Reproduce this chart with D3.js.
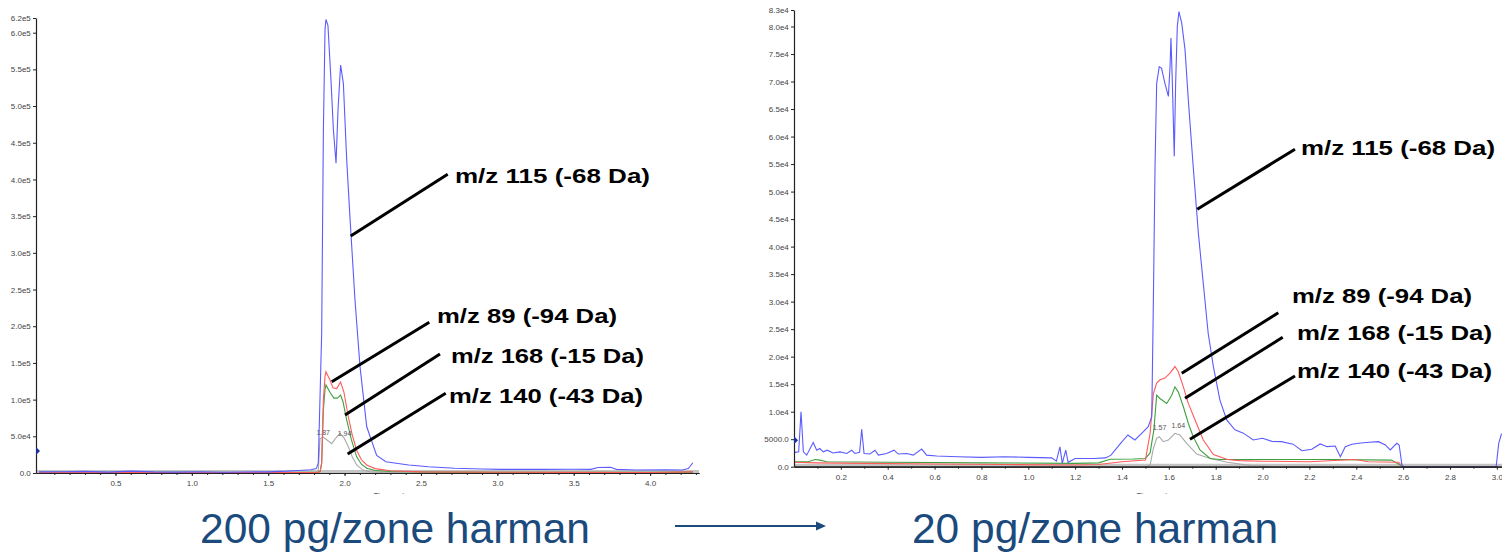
<!DOCTYPE html>
<html>
<head>
<meta charset="utf-8">
<script src="https://cdn.jsdelivr.net/npm/d3@7/dist/d3.min.js"></script>
<style>
  body { margin: 0; background: #fff; }
  svg { display: block; font-family: "Liberation Sans", Arial, sans-serif; }
  .tick text { font-size: 8px; fill: #444; }
  .tick line, .domain { stroke: #222; }
</style>
</head>
<body>
<div id="main"></div>
<script>
// ---- 200 pg/zone chromatogram: [time (min), intensity] ----
var left115 = [[0,1500],[0.15,1800],[0.3,2200],[0.45,1200],[0.6,2500],[0.75,1500],[0.9,1200],[1.05,1800],[1.2,1000],[1.35,1400],[1.5,1600],[1.62,2500],[1.7,3500],[1.78,4500],[1.815,6000],[1.828,13600],[1.85,190000],[1.861,463000],[1.872,605000],[1.878,618000],[1.891,610000],[1.911,535000],[1.927,467000],[1.944,422000],[1.957,495000],[1.974,556000],[1.992,531000],[2.014,426000],[2.035,349000],[2.068,236000],[2.101,145000],[2.145,63000],[2.21,24000],[2.27,15400],[2.35,13000],[2.42,11000],[2.55,8500],[2.72,6400],[2.9,5500],[3.02,5000],[3.3,5000],[3.5,5200],[3.61,5000],[3.66,7500],[3.74,7700],[3.78,5000],[3.91,4000],[4.1,4200],[4.21,4000],[4.25,6000],[4.28,14000]];
var left89 = [[0,600],[0.5,500],[1.0,600],[1.5,500],[1.82,600],[1.84,2000],[1.85,13000],[1.861,99000],[1.872,132000],[1.878,138000],[1.89,133000],[1.904,127000],[1.924,116000],[1.948,115000],[1.974,124000],[1.996,110000],[2.024,77000],[2.05,52000],[2.079,31000],[2.11,18000],[2.145,11000],[2.2,6000],[2.3,3000],[2.5,1500],[3.0,1000],[3.5,800],[4.0,700],[4.28,1500]];
var left168 = [[0,900],[0.5,800],[1.0,900],[1.5,700],[1.82,800],[1.84,2000],[1.85,14000],[1.861,86000],[1.872,114000],[1.878,120000],[1.904,110000],[1.93,102000],[1.953,102000],[1.974,106000],[1.99,97000],[2.014,72000],[2.045,45000],[2.079,22000],[2.11,12000],[2.145,6400],[2.2,3500],[2.3,2000],[2.6,1200],[3.0,1000],[3.5,900],[4.0,900],[4.28,1200]];
var left140 = [[0,0],[1.82,0],[1.828,2700],[1.839,47000],[1.861,49000],[1.885,45000],[1.916,40000],[1.944,48000],[1.97,54000],[1.996,48000],[2.024,36000],[2.05,22000],[2.079,11000],[2.12,4000],[2.166,1800],[2.25,500],[2.4,0],[4.28,0]];

// ---- 20 pg/zone chromatogram ----
var right115 = [[0.004,2600],[0.02,2700],[0.03,10000],[0.04,2700],[0.054,2100],[0.082,4400],[0.097,3000],[0.11,3300],[0.125,2700],[0.142,3000],[0.167,2500],[0.196,2700],[0.225,2400],[0.246,3000],[0.26,2400],[0.28,2600],[0.289,6800],[0.299,2400],[0.324,2300],[0.346,3000],[0.36,2100],[0.395,2400],[0.427,3000],[0.445,2300],[0.48,2400],[0.509,2100],[0.545,3200],[0.566,2100],[0.609,1950],[0.7,1800],[0.8,1700],[0.9,1800],[1.0,1700],[1.1,1600],[1.12,1000],[1.135,3600],[1.145,600],[1.16,3000],[1.17,800],[1.2,1500],[1.28,1500],[1.33,1600],[1.353,2100],[1.394,4250],[1.425,5760],[1.455,4850],[1.484,6070],[1.512,7270],[1.527,9100],[1.534,30300],[1.541,54500],[1.548,69700],[1.559,72700],[1.569,72400],[1.583,69700],[1.598,67300],[1.605,72700],[1.609,77900],[1.615,69700],[1.623,56400],[1.629,69700],[1.636,80000],[1.643,82700],[1.655,80600],[1.669,75800],[1.683,66700],[1.704,54500],[1.726,42400],[1.747,33300],[1.768,24200],[1.79,18200],[1.818,12100],[1.847,8500],[1.882,6700],[1.918,6100],[1.96,4850],[2.0,5160],[2.04,4600],[2.08,4550],[2.13,4100],[2.168,2900],[2.21,3160],[2.246,4130],[2.275,3640],[2.31,3760],[2.332,1820],[2.353,3640],[2.382,4070],[2.41,4250],[2.453,4440],[2.495,4550],[2.524,3950],[2.545,3040],[2.573,4250],[2.583,3950],[2.595,300],[2.602,0],[2.997,0],[3.008,4250],[3.02,6000]];
var right89 = [[0,800],[0.1,700],[0.3,600],[0.6,500],[0.9,400],[1.2,300],[1.3,400],[1.4,900],[1.5,1200],[1.52,6070],[1.534,13300],[1.548,15200],[1.562,15800],[1.583,16100],[1.605,17000],[1.626,18200],[1.64,17300],[1.662,14500],[1.683,11500],[1.712,8500],[1.747,4850],[1.79,2200],[1.85,1300],[1.9,1100],[2.0,1000],[2.2,900],[2.395,1300],[2.45,900],[2.58,800],[2.6,0],[3.0,0]];
var right168 = [[0,900],[0.06,900],[0.09,1300],[0.11,1200],[0.14,900],[0.4,800],[0.8,700],[1.2,600],[1.3,700],[1.35,1350],[1.45,1400],[1.5,1500],[1.52,2500],[1.536,6700],[1.548,13000],[1.562,12400],[1.591,11500],[1.612,13000],[1.626,14500],[1.64,13600],[1.662,10900],[1.683,7900],[1.704,5450],[1.733,3040],[1.776,1500],[1.82,1300],[2.0,1300],[2.3,1300],[2.55,1200],[2.6,0],[3.0,0]];
var right140 = [[0,0],[1.5,0],[1.52,300],[1.534,3350],[1.548,5150],[1.559,5450],[1.576,4550],[1.598,4850],[1.626,6070],[1.647,5760],[1.676,4250],[1.719,2300],[1.776,1500],[1.85,800],[1.95,200],[2.05,0],[3.0,0]];

// ticks and labels
var leftYTicks = [0,50000,100000,150000,200000,250000,300000,350000,400000,450000,500000,550000,600000,620000];
var rightYTicks = [0,5000,10000,15000,20000,25000,30000,35000,40000,45000,50000,55000,60000,65000,70000,75000,80000,83000];
var leftXTicks = [0.5,1.0,1.5,2.0,2.5,3.0,3.5,4.0];
var rightXTicks = [0.2,0.4,0.6,0.8,1.0,1.2,1.4,1.6,1.8,2.0,2.2,2.4,2.6,2.8,3.0];
var leftPeakLabels = ["1.87","1.94"];
var rightPeakLabels = ["1.57","1.64"];
var traceNames = ["m/z 115 (-68 Da)","m/z 89 (-94 Da)","m/z 168 (-15 Da)","m/z 140 (-43 Da)"];
var captions = ["200 pg/zone harman","20 pg/zone harman"];

var trace_colors = { t115: "#5b5bff", t89: "#ff5a5a", t168: "#3f9f3f", t140: "#a8a8a8" };
var caption_color = "#1b4a7c";

var svg = d3.select("#main").append("svg").attr("width", 1502).attr("height", 553);
svg.append("defs").append("clipPath").attr("id", "cutoff")
   .append("rect").attr("x", 0).attr("y", 0).attr("width", 1502).attr("height", 494);

function yfmt(v) {
   if (v === 0) return "0.0";
   if (v < 10000) return v.toFixed(1);
   return d3.format(".1e")(v).replace("+", "");
}

function draw_chart(cfg) {
   var x = d3.scaleLinear().domain(cfg.xdom).range(cfg.xr);
   var y = d3.scaleLinear().domain(cfg.ydom).range(cfg.yr);
   var g = svg.append("g");

   // baseline band (flat trace at zero)
   g.append("line").attr("x1", cfg.xr[0]).attr("x2", cfg.xr[1])
      .attr("y1", cfg.yr[0] - 1.5).attr("y2", cfg.yr[0] - 1.5)
      .attr("stroke", "#c4c4c4").attr("stroke-width", 3);

   var line = d3.line().x(function(d) { return x(d[0]); }).y(function(d) { return y(d[1]); });
   cfg.traces.forEach(function(tr) {
      g.append("path").datum(tr.data).attr("d", line)
         .attr("fill", "none").attr("stroke", tr.color).attr("stroke-width", 1.1);
   });

   // axes
   g.append("g").attr("transform", "translate(0," + cfg.yr[0] + ")")
      .call(d3.axisBottom(x).tickValues(cfg.minor).tickFormat("").tickSize(2).tickSizeOuter(0));
   g.append("g").attr("transform", "translate(0," + cfg.yr[0] + ")")
      .call(d3.axisBottom(x).tickValues(cfg.xticks).tickFormat(d3.format(".1f")).tickSize(3).tickSizeOuter(0))
      .selectAll("text").attr("dy", "0.9em");
   g.append("g").attr("transform", "translate(" + cfg.xr[0] + ",0)")
      .call(d3.axisLeft(y).tickValues(cfg.yticks).tickFormat(yfmt).tickSize(3).tickSizeOuter(0))
      .selectAll("text").attr("dx", "0.1em");
   g.selectAll(".domain").attr("stroke-width", 1.2);

   // axis title, cut off in the original
   g.append("text").attr("clip-path", "url(#cutoff)")
      .attr("x", cfg.titleX).attr("y", 498)
      .attr("text-anchor", "middle").attr("font-size", 8).attr("fill", "#333").text("Time, min");

   // marker on y axis
   var my = y(cfg.marker);
   g.append("path").attr("d", "M" + cfg.xr[0] + "," + (my - 4) + "l4,4l-4,4z").attr("fill", "#1a2f9a");

   // apex labels
   cfg.apex.forEach(function(a, i) {
      g.append("text").attr("x", x(a.t)).attr("y", y(a.v))
         .attr("text-anchor", "middle").attr("font-size", 7).attr("fill", "#555")
         .text(cfg.apexText[i]);
   });

   // leader lines and labels
   cfg.notes.forEach(function(n, i) {
      g.append("line").attr("x1", x(n.t)).attr("y1", y(n.v)).attr("x2", n.x2).attr("y2", n.y2)
         .attr("stroke", "#000").attr("stroke-width", 3);
      g.append("text").attr("x", n.tx).attr("y", n.ty)
         .attr("font-size", 21).attr("font-weight", "bold").attr("fill", "#000")
         .attr("textLength", n.w).attr("lengthAdjust", "spacingAndGlyphs")
         .text(traceNames[i]);
   });
}

draw_chart({
   xdom: [-0.02, 4.32], xr: [36, 699], ydom: [0, 620000], yr: [473, 18],
   yticks: leftYTicks, xticks: leftXTicks, minor: d3.range(1, 44).map(function(i) { return i / 10; }),
   traces: [
      { data: left140, color: trace_colors.t140 },
      { data: left168, color: trace_colors.t168 },
      { data: left89, color: trace_colors.t89 },
      { data: left115, color: trace_colors.t115 }
   ],
   titleX: 391, marker: 30000,
   apexText: leftPeakLabels, apex: [{ t: 1.86, v: 52000 }, { t: 2.0, v: 51000 }],
   notes: [
      { t: 2.040, v: 323000, x2: 447.7, y2: 174.3, tx: 455, ty: 183, w: 195 },
      { t: 1.916, v: 124400, x2: 429.3, y2: 322.3, tx: 437, ty: 323, w: 180 },
      { t: 2.003, v: 79000, x2: 440, y2: 354, tx: 451, ty: 363, w: 193 },
      { t: 2.020, v: 25900, x2: 445.7, y2: 393.3, tx: 449, ty: 403, w: 194 }
   ]
});

draw_chart({
   xdom: [0, 3.022], xr: [794, 1502], ydom: [0, 83000], yr: [466.7, 10],
   yticks: rightYTicks, xticks: rightXTicks, minor: d3.range(1, 31).filter(function(i) { return i % 2; }).map(function(i) { return i / 10; }),
   traces: [
      { data: right140, color: trace_colors.t140 },
      { data: right168, color: trace_colors.t168 },
      { data: right89, color: trace_colors.t89 },
      { data: right115, color: trace_colors.t115 }
   ],
   titleX: 1154, marker: 4800,
   apexText: rightPeakLabels, apex: [{ t: 1.56, v: 6700 }, { t: 1.64, v: 7000 }],
   notes: [
      { t: 1.721, v: 46800, x2: 1295, y2: 149.3, tx: 1301, ty: 155, w: 194 },
      { t: 1.655, v: 16980, x2: 1278.3, y2: 312.7, tx: 1292, ty: 303, w: 180 },
      { t: 1.669, v: 12440, x2: 1282.7, y2: 337.3, tx: 1297, ty: 340, w: 195 },
      { t: 1.690, v: 4980, x2: 1295, y2: 376, tx: 1297, ty: 378, w: 195 }
   ]
});

// captions and arrow
svg.append("text").attr("x", 200).attr("y", 543).attr("font-size", 42).attr("fill", caption_color)
   .attr("textLength", 390).attr("lengthAdjust", "spacingAndGlyphs").text(captions[0]);
svg.append("text").attr("x", 912).attr("y", 543).attr("font-size", 42).attr("fill", caption_color)
   .attr("textLength", 366).attr("lengthAdjust", "spacingAndGlyphs").text(captions[1]);
svg.append("line").attr("x1", 675).attr("x2", 818).attr("y1", 526).attr("y2", 526)
   .attr("stroke", caption_color).attr("stroke-width", 2);
svg.append("path").attr("d", "M816,521.5l10,4.5l-10,4.5z").attr("fill", caption_color);
</script>
</body>
</html>
